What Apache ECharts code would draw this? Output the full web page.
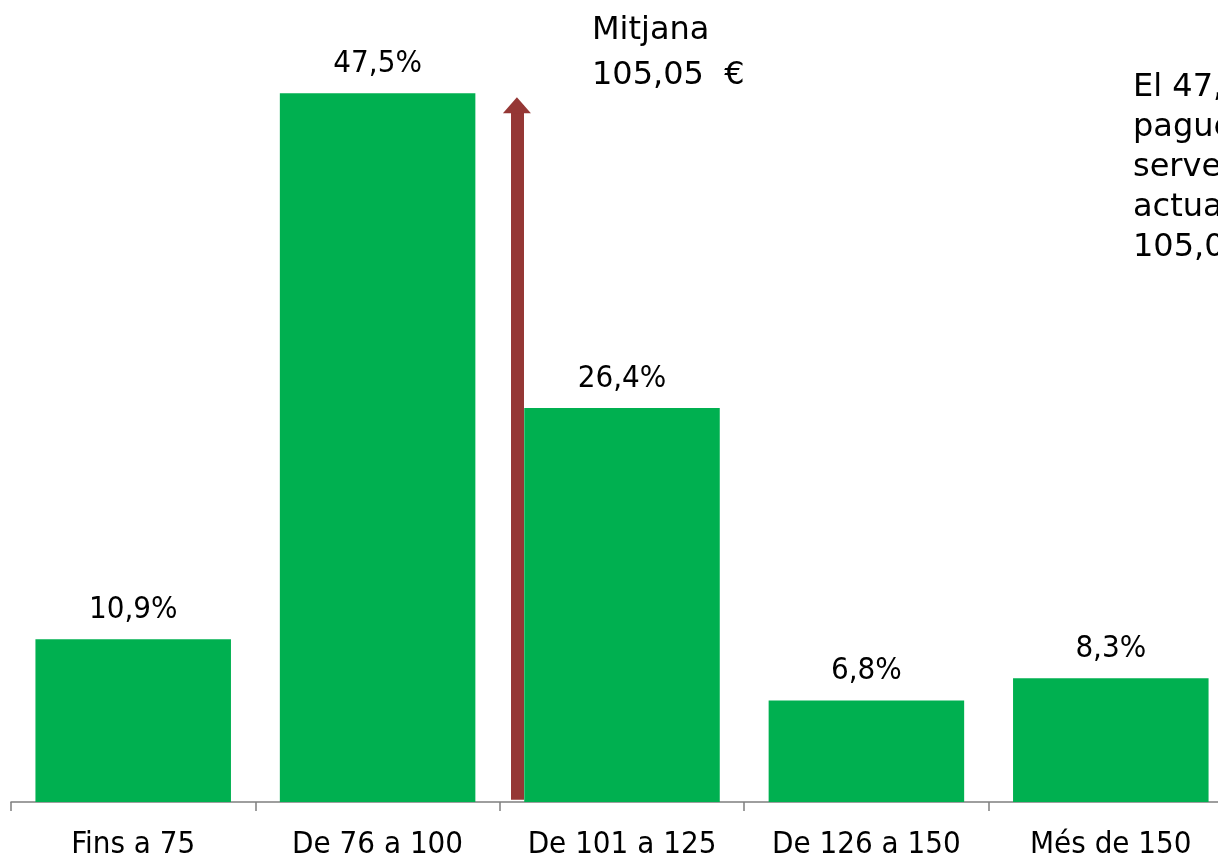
<!DOCTYPE html>
<html>
<head>
<meta charset="utf-8">
<script src="https://cdn.jsdelivr.net/npm/echarts@6/dist/echarts.min.js"></script>
<style>
    html, body { margin: 0; padding: 0; background: #fff; overflow: hidden; }
    #chart { width: 1240px; height: 860px; }
</style>
</head>
<body>
<div id="chart"></div>
<script>
// dades
var categories = ['Fins a 75', 'De 76 a 100', 'De 101 a 125', 'De 126 a 150', 'Més de 150'];
var values = [10.9, 47.5, 26.4, 6.8, 8.3];
var meanLabel = ['Mitjana', '105,05  €'];
var meanPos = 1.57;      // posició de la fletxa (en índex de categoria)
var meanTop = 46.7;      // alçada de la fletxa (escala del gràfic)
var noteLines = ['El 47,5% de les llars', 'paguen menys que la', 'serveis contractats', 'actualment, és a dir', '105,05 €'];

var labelFont = '"DejaVu Sans Condensed", "DejaVu Sans", sans-serif';
var noteFont = '"DejaVu Sans", sans-serif';

function fmt(v) {
    return v.toFixed(1).replace('.', ',') + '%';
}

var myChart = echarts.init(document.getElementById('chart'));
var option = {
    animation: false,
    backgroundColor: '#fff',
    grid: {
        left: 11,
        right: 7,
        top: 56,
        bottom: 58
    },
    xAxis: [
        {
            type: 'category',
            data: categories,
            axisLine: { lineStyle: { color: '#7f7f7f', width: 1.5 } },
            axisTick: { show: true, length: 9, lineStyle: { color: '#7f7f7f', width: 1.5 } },
            axisLabel: {
                color: '#000',
                fontFamily: labelFont,
                fontSize: 31,
                margin: 27,
                interval: 0
            }
        },
        {
            // eix auxiliar per situar la fletxa
            type: 'value',
            min: -0.5,
            max: 4.5,
            show: false
        }
    ],
    yAxis: {
        type: 'value',
        min: 0,
        max: 50,
        show: false
    },
    series: [
        {
            type: 'bar',
            data: values,
            barCategoryGap: '20%',
            itemStyle: { color: '#00B050' },
            label: {
                show: true,
                position: 'top',
                distance: 14,
                color: '#000',
                fontFamily: labelFont,
                fontSize: 31,
                formatter: function (p) { return fmt(p.value); }
            }
        },
        {
            type: 'line',
            xAxisIndex: 1,
            data: [[meanPos, 0]],
            showSymbol: false,
            silent: true,
            lineStyle: { width: 0 },
            markLine: {
                silent: true,
                symbol: ['none', 'triangle'],
                symbolSize: [28, 16],
                label: { show: false },
                lineStyle: { type: 'solid', width: 13, color: '#953735', opacity: 1 },
                data: [[
                    { coord: [meanPos, 0.15] },
                    { coord: [meanPos, meanTop] }
                ]]
            }
        }
    ],
    graphic: [
        {
            type: 'text',
            left: 592,
            top: 8,
            style: {
                text: meanLabel.join('\n'),
                font: '32px ' + noteFont,
                lineHeight: 45,
                fill: '#000'
            }
        },
        {
            type: 'text',
            left: 1133,
            top: 68,
            style: {
                text: noteLines.join('\n'),
                font: '32px ' + noteFont,
                lineHeight: 40,
                fill: '#000'
            }
        }
    ]
};
myChart.setOption(option);
</script>
</body>
</html>
